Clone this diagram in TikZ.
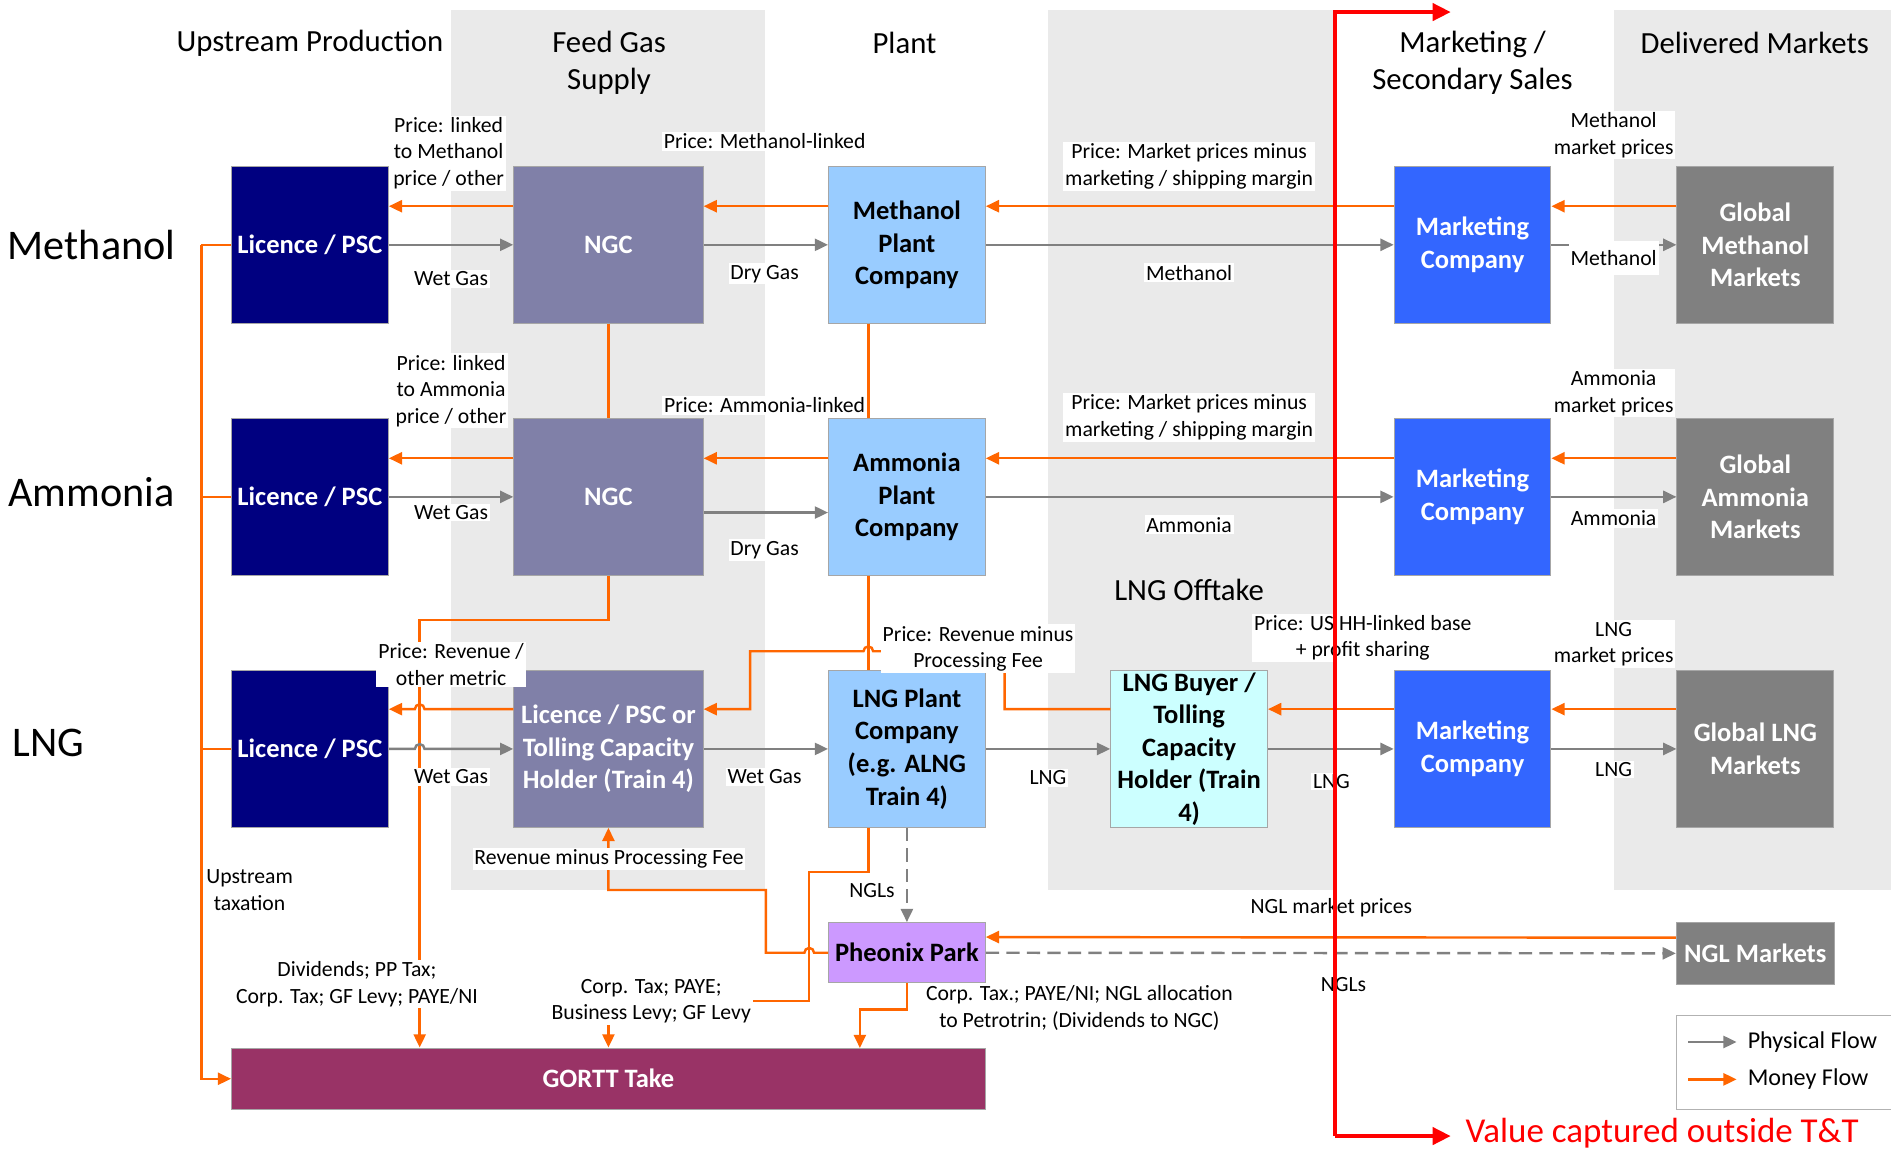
\documentclass[tikz,border=0pt]{standalone}
\usepackage{fontspec}
\setmainfont{Carlito}
\usetikzlibrary{arrows.meta,calc}
\definecolor{navyc}{RGB}{0,0,128}
\definecolor{ngcc}{RGB}{128,128,168}
\definecolor{plantc}{RGB}{153,204,255}
\definecolor{buyerc}{RGB}{204,255,255}
\definecolor{mktc}{RGB}{51,102,255}
\definecolor{globc}{RGB}{128,128,128}
\definecolor{phc}{RGB}{204,153,255}
\definecolor{gorttc}{RGB}{153,51,102}
\definecolor{orangec}{RGB}{255,102,0}
\definecolor{grayl}{RGB}{128,128,128}
\definecolor{bandc}{RGB}{234,234,234}
\definecolor{redc}{RGB}{255,0,0}
\begin{document}
\begin{tikzpicture}[x=1pt,y=-1pt,
  box/.style={draw=black!35, line width=0.8pt, inner sep=0pt, align=center, font=\bfseries\fontsize{22}{27}\selectfont},
  sq/.style={box, minimum width=130pt, minimum height=130pt},
  wide/.style={box, minimum width=157pt, minimum height=130pt},
  money/.style={draw=orangec, line width=2pt, -{Triangle[length=11pt,width=10pt]}},
  moneyline/.style={draw=orangec, line width=2pt},
  phys/.style={draw=grayl, line width=2pt, -{Triangle[length=11pt,width=10pt]}},
  physdash/.style={phys, dash pattern=on 11pt off 6pt},
  redarrow/.style={draw=redc, line width=3.5pt, -{Triangle[length=15pt,width=14pt]}},
  lbl/.style={fill=white, inner sep=1.5pt, align=center, font=\fontsize{18}{22}\selectfont},
  ttl/.style={align=center, font=\fontsize{25.5}{31}\selectfont},
  rowl/.style={font=\fontsize{35}{42}\selectfont},
]
\useasboundingbox (0,0) rectangle (1568,953);
\fill[white] (0,0) rectangle (1568,953);
% background bands
\fill[bandc] (374,8) rectangle (634,738);
\fill[bandc] (869,8) rectangle (1106,738);
\fill[bandc] (1338,8) rectangle (1568,738);

% titles
\node[ttl] (t1) at (257,36) {Upstream Production};
\node[ttl] (t2) at (505,52) {Feed Gas\\Supply};
\node[ttl] (t3) at (750,36) {Plant};
\node[ttl] (t4) at (1221,52) {Marketing /\\Secondary Sales};
\node[ttl] (t5) at (1455,36) {Delivered Markets};
\node[ttl] (t6) at (986,489) {LNG Offtake};

\node[rowl] (r1) at (76,203) {Methanol};
\node[rowl] (r2) at (76,408) {Ammonia};
\node[rowl] (r3) at (40,616) {LNG};

% boxes
\node[sq, fill=navyc, text=white] (lic1) at (257,203) {Licence / PSC};
\node[sq, fill=navyc, text=white] (lic2) at (257,412) {Licence / PSC};
\node[sq, fill=navyc, text=white] (lic3) at (257,621) {Licence / PSC};
\node[wide, fill=ngcc, text=white] (ngc1) at (504.5,203) {NGC};
\node[wide, fill=ngcc, text=white] (ngc2) at (504.5,412) {NGC};
\node[wide, fill=ngcc, text=white] (tol) at (504.5,621) {Licence / PSC or\\Tolling Capacity\\Holder (Train 4)};
\node[sq, fill=plantc] (pl1) at (752,203) {Methanol\\Plant\\Company};
\node[sq, fill=plantc] (pl2) at (752,412) {Ammonia\\Plant\\Company};
\node[sq, fill=plantc] (pl3) at (752,621) {LNG Plant\\Company\\(e.g. ALNG\\Train 4)};
\node[sq, fill=buyerc] (buy) at (986,621) {LNG Buyer /\\Tolling\\Capacity\\Holder (Train\\4)};
\node[sq, fill=mktc, text=white] (mk1) at (1221,203) {Marketing\\Company};
\node[sq, fill=mktc, text=white] (mk2) at (1221,412) {Marketing\\Company};
\node[sq, fill=mktc, text=white] (mk3) at (1221,621) {Marketing\\Company};
\node[sq, fill=globc, text=white] (gl1) at (1455.5,203) {Global\\Methanol\\Markets};
\node[sq, fill=globc, text=white] (gl2) at (1455.5,412) {Global\\Ammonia\\Markets};
\node[sq, fill=globc, text=white] (gl3) at (1455.5,621) {Global LNG\\Markets};
\node[box, fill=phc, minimum width=130pt, minimum height=50pt] (ph) at (752,790) {Pheonix Park};
\node[box, fill=globc, text=white, minimum width=131pt, minimum height=51pt] (nglm) at (1455.5,790.5) {NGL Markets};
\node[box, fill=gorttc, text=white, minimum width=625pt, minimum height=51pt] (gortt) at (504.5,894.5) {GORTT Take};

% Methanol row
\draw[money] ([yshift=32pt]ngc1.west) -- ([yshift=32pt]lic1.east);
\draw[phys] (lic1.east) -- (ngc1.west);
\draw[money] ([yshift=32pt]pl1.west) -- ([yshift=32pt]ngc1.east);
\draw[phys] (ngc1.east) -- (pl1.west);
\draw[money] ([yshift=32pt]mk1.west) -- ([yshift=32pt]pl1.east);
\draw[phys] (pl1.east) -- (mk1.west);
\draw[money] ([yshift=32pt]gl1.west) -- ([yshift=32pt]mk1.east);
\draw[phys] (mk1.east) -- (gl1.west);

% Ammonia row
\draw[money] ([yshift=32pt]ngc2.west) -- ([yshift=32pt]lic2.east);
\draw[phys] (lic2.east) -- (ngc2.west);
\draw[money] ([yshift=32pt]pl2.west) -- ([yshift=32pt]ngc2.east);
\draw[phys] ([yshift=-13pt]ngc2.east) -- ([yshift=-13pt]pl2.west);
\draw[money] ([yshift=32pt]mk2.west) -- ([yshift=32pt]pl2.east);
\draw[phys] (pl2.east) -- (mk2.west);
\draw[money] ([yshift=32pt]gl2.west) -- ([yshift=32pt]mk2.east);
\draw[phys] (mk2.east) -- (gl2.west);

% verticals between rows
\draw[moneyline] (ngc1.south) -- (ngc2.north);
\draw[moneyline] ([xshift=-32pt]pl1.south) -- ([xshift=-32pt]pl2.north);
\draw[moneyline] ([xshift=-32pt]pl2.south) -- ([xshift=-32pt]pl3.north);

% NGC2 to GORTT
\coordinate (d1) at (348,514);
\draw[money] (ngc2.south) |- (d1) -- (d1 |- gortt.north);

% LNG row
\draw[money] ([yshift=33pt]tol.west) -- (352,588) arc[start angle=0,end angle=180,radius=4pt] -- ([yshift=33pt]lic3.east);
\draw[phys] (lic3.east) -- (344,621) arc[start angle=180,end angle=0,radius=4pt] -- (tol.west);
\draw[phys] (tol.east) -- (pl3.west);
\draw[money] ([yshift=33pt]buy.west) -- (833,588) -- (833,540) -- (724,540) arc[start angle=0,end angle=180,radius=4pt] -- (622,540) -- (622,588) -- ([yshift=33pt]tol.east);
\draw[phys] (pl3.east) -- (buy.west);
\draw[money] ([yshift=33pt]mk3.west) -- ([yshift=33pt]buy.east);
\draw[phys] (buy.east) -- (mk3.west);
\draw[money] ([yshift=33pt]gl3.west) -- ([yshift=33pt]mk3.east);
\draw[phys] (mk3.east) -- (gl3.west);

% revenue minus processing fee
\draw[money] (ph.west) -- (675,790) arc[start angle=0,end angle=180,radius=4pt] -- (635,790) -- (635,738) -- (504.5,738) -- (tol.south);
% LNG plant taxes
\draw[money] ([xshift=-32pt]pl3.south) -- (720,723) -- (671,723) -- (671,830) -- (504.5,830) -- (gortt.north);
% NGLs
\draw[physdash] (pl3.south) -- (ph.north);
\draw[money] ([yshift=13pt]nglm.west) -- ([yshift=13pt]ph.east);
\draw[physdash] (ph.east) -- (nglm.west);
% Pheonix to GORTT
\coordinate (g3) at (713,869);
\draw[money] (ph.south) -- (752,837) -- (713,837) -- (g3);

% upstream taxation
\coordinate (u1) at (167,203);
\draw[moneyline] (lic1.west) -- (u1);
\draw[moneyline] (lic2.west) -- (167,412);
\draw[moneyline] (lic3.west) -- (167,621);
\draw[money] (u1) -- (u1 |- gortt.west) -- (gortt.west);

% labels
\node[lbl] (l1) at (372,127) {Price: linked\\to Methanol\\price / other};
\node[lbl] (l2) at (374,231) {Wet Gas};
\node[lbl] (l3) at (634,117) {Price: Methanol-linked};
\node[lbl] (l4) at (634,227) {Dry Gas};
\node[lbl] (l5) at (986,138) {Price: Market prices minus\\marketing / shipping margin};
\node[lbl] (l6) at (986,226) {Methanol};
\node[lbl] (l7) at (1338,112) {Methanol\\market prices};
\node[lbl, minimum height=28pt] (l8) at (1338,214) {Methanol};

\node[lbl] (a1) at (374,324) {Price: linked\\to Ammonia\\price / other};
\node[lbl] (a2) at (374,425) {Wet Gas};
\node[lbl] (a3) at (634,336) {Price: Ammonia-linked};
\node[lbl] (a4) at (634,456) {Dry Gas};
\node[lbl] (a5) at (986,346) {Price: Market prices minus\\marketing / shipping margin};
\node[lbl] (a6) at (986,435) {Ammonia};
\node[lbl] (a7) at (1338,326) {Ammonia\\market prices};
\node[lbl] (a8) at (1338,430) {Ammonia};

\node[lbl] (n1) at (374,551) {Price: Revenue /\\other metric};
\node[lbl] (n2) at (374,644) {Wet Gas};
\node[lbl] (n3) at (634,644) {Wet Gas};
\node[lbl] (n4) at (811,538) {Price: Revenue minus\\Processing Fee};
\node[lbl] (n5) at (869,645) {LNG};
\node[lbl] (n6) at (1130,529) {Price: US HH-linked base\\+ profit sharing};
\node[lbl] (n7) at (1104,648) {LNG};
\node[lbl] (n8) at (1338,534) {LNG\\market prices};
\node[lbl] (n9) at (1338,638) {LNG};
\node[lbl] (n10) at (505,712) {Revenue minus Processing Fee};
\node[lbl] (n11) at (723,738) {NGLs};
\node[lbl] (n12) at (207,738) {Upstream\\taxation};
\node[lbl] (n13) at (296,816) {Dividends; PP Tax;\\Corp. Tax; GF Levy; PAYE/NI};
\node[lbl] (n14) at (540,830) {Corp. Tax; PAYE;\\Business Levy; GF Levy};
\node[lbl] (n15) at (895,836) {Corp. Tax.; PAYE/NI; NGL allocation\\to Petrotrin; (Dividends to NGC)};
\node[lbl] (n16) at (1104,753) {NGL market prices};
\node[lbl] (n17) at (1114,816) {NGLs};

% legend
\draw[black!30, line width=1pt] (1568,842) -- (1390,842) -- (1390,920) -- (1568,920);
\coordinate (lg1a) at (1400,864);
\coordinate (lg1b) at (1440,864);
\coordinate (lg2a) at (1400,895);
\coordinate (lg2b) at (1440,895);
\draw[phys] (lg1a) -- (lg1b);
\draw[money] (lg2a) -- (lg2b);
\node[anchor=west, font=\fontsize{20}{24}\selectfont, inner sep=0pt] (lt1) at (1449,864) {Physical Flow};
\node[anchor=west, font=\fontsize{20}{24}\selectfont, inner sep=0pt] (lt2) at (1449,895) {Money Flow};

% red boundary
\coordinate (rb) at (1107,942);
\coordinate (rt) at (1107,10);
\coordinate (rte) at (1203,10);
\coordinate (rbe) at (1203,942);
\draw[redarrow] (rb) -- (rt) -- (rte);
\draw[redarrow] (rb) -- (rbe);
\node[anchor=west, text=redc, font=\fontsize{29}{35}\selectfont, inner sep=0pt] (vt) at (1215,940) {Value captured outside T\&T};
\end{tikzpicture}
\end{document}
